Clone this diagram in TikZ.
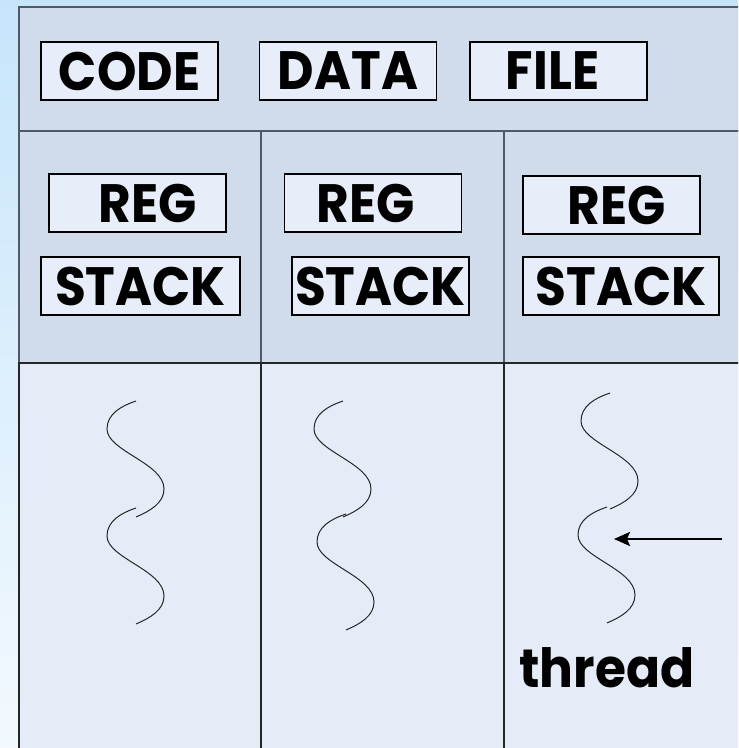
\documentclass[tikz,border=0pt]{standalone}
\usepackage{fontspec}
\setmainfont{Poppins}[FakeStretch=0.93]
\usetikzlibrary{arrows.meta, positioning}
\definecolor{slidetop}{HTML}{C6E5FB}
\definecolor{slidebot}{HTML}{F3F9FE}
\definecolor{bandblue}{HTML}{D0DCEC}
\definecolor{lowblue}{HTML}{E6ECF7}
\definecolor{boxblue}{HTML}{E8EEF9}
\definecolor{framegray}{HTML}{505A66}
\tikzset{x = 0.5pt, y = -0.5pt,
         band/.style = {draw = framegray, line width = 0.8pt, fill = bandblue},
         lane/.style = {draw = black!85, line width = 0.6pt, fill = lowblue},
         part/.style = {draw = black, line width = 0.6pt, fill = boxblue,
                        inner sep = 0pt, minimum width = 88.5pt, minimum height = 29pt,
                        font = \fontsize{27}{28}\selectfont\bfseries},
         wave/.pic = {\draw[line width = 0.5pt, black!85]
                        (0,0) .. controls (-15,5) and (-29,13) .. (-29,28)
                              .. controls (-29,50) and (28,62) .. (28,88)
                              .. controls (28,102) and (14,110) .. (0,116);}}
\begin{document}
\begin{tikzpicture}
    \useasboundingbox (0,0) rectangle (738,748);
    \clip (0,0) rectangle (738,748);
    \shade[top color = slidetop, bottom color = slidebot] (0,0) rectangle (738,748);

    % shared part of the task
    \draw[band] (19,7) rectangle (760,131);
    \node[part] (code) at (129.5,71) {CODE};
    \node[part] (data) at (348,71)   {DATA};
    \node[part] (file) at (558.5,71) {\hspace*{-6pt}FILE};

    % one column per thread
    \draw[band] (19,131)  rectangle (261,363);
    \draw[band] (261,131) rectangle (504,363);
    \draw[band] (504,131) rectangle (760,363);
    \draw[lane] (19,363)  rectangle (261,760);
    \draw[lane] (261,363) rectangle (504,760);
    \draw[lane] (504,363) rectangle (760,760);

    \node[part] (reg1)   at (137.5,203) {\hspace*{10.5pt}REG};
    \node[part, minimum width = 99.5pt] (stack1) at (140.5,286) {STACK};
    \node[part] (reg2)   at (373,203)   {\hspace*{-7pt}REG};
    \node[part] (stack2) at (380.5,286) {STACK};
    \node[part] (reg3)   at (611.5,205) {\hspace*{5.5pt}REG};
    \node[part, minimum width = 98pt] (stack3) at (621,286) {STACK};

    % the threads themselves
    \pic at (136,401) {wave};
    \pic at (136,508) {wave};
    \pic at (343,401) {wave};
    \pic at (346,514) {wave};
    \pic at (610,393) {wave};
    \pic at (607,507) {wave};

    \node[font = \fontsize{27}{28}\selectfont\bfseries] (thread) at (607,668) {thread};
    \coordinate (pointer) at (722,539);
    \coordinate (strand)  at (614,539);
    \draw[-{Stealth[length = 8pt, width = 7pt, inset = 1.5pt]}, line width = 1.1pt]
        (pointer) -- (strand);
\end{tikzpicture}
\end{document}
